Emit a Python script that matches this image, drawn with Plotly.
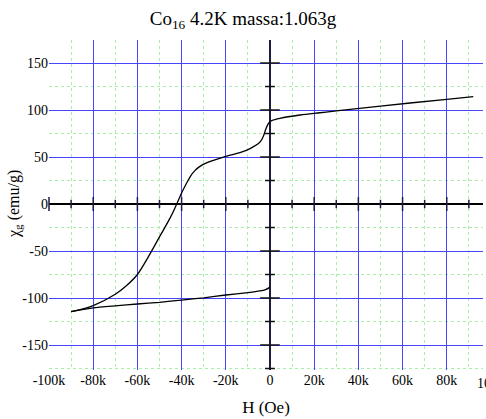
import plotly.graph_objects as go

# ---- data ----
H_down = [92000, 80000, 50000, 30000, 22600, 13600, 4500, 1000, 0, -1000, -2000, -3000,
          -4500, -9000, -13600, -19600, -25600, -29000, -32000, -34000, -36000, -38000,
          -40000, -42200, -45000, -50000, -55000, -60000, -65000, -70000,
          -80000, -90000]
M_down = [114.2, 111.4, 104.2, 99.0, 97.1, 94.7, 91.2, 89.0, 87.5, 84.5, 79.0, 72.0,
          66.0, 59.0, 54.6, 51.0, 46.5, 43.5, 39.5, 35.5, 29.5, 21.0,
          11.7, 0.0, -14.0, -35.0, -56.0, -75.0, -87.0, -96.0,
          -108.0, -114.5]
H_up = [-90000, -80000, -70000, -60000, -50000, -40000, -30000, -20000, -10000,
        -4500, -2000, -500, 0]
M_up = [-114.5, -110.5, -108.3, -106.4, -104.6, -102.2, -99.8, -96.8, -94.3,
        -92.5, -91.0, -89.2, -88.0]

x_tickvals = [-100000, -80000, -60000, -40000, -20000, 0, 20000, 40000, 60000, 80000]
x_ticktext = ["-100k", "-80k", "-60k", "-40k", "-20k", "0", "20k", "40k", "60k", "80k"]
y_tickvals = [-150, -100, -50, 0, 50, 100, 150]
y_ticktext = ["-150", "-100", "-50", "0", "50", "100", "150"]

# tick marks drawn on the axes that cross at the origin
x_major_marks = [-100000, -80000, -60000, -40000, -20000, 20000, 40000, 60000, 80000]
x_minor_marks = [-90000, -70000, -50000, -30000, -10000, 10000, 30000, 50000, 70000, 90000]
y_major_marks = [-150, -100, -50, 50, 100, 150]
y_minor_marks = [-175, -125, -75, -25, 25, 75, 125]

x_range = [-100000, 96400]
y_range = [-176.6, 174.5]

FONT = "Liberation Serif"
MAJOR = "#4646ff"
MINOR = "#a8f0a8"
AXC = "#1c1c40"
W, H = 486, 419
ML, MR, MT, MB = 49, 3, 40, 49

fig = go.Figure()
fig.add_trace(go.Scatter(x=H_down, y=M_down, mode="lines",
                         line=dict(color="black", width=1.3, shape="spline", smoothing=1.0),
                         showlegend=False, hoverinfo="skip"))
fig.add_trace(go.Scatter(x=H_up, y=M_up, mode="lines",
                         line=dict(color="black", width=1.3, shape="spline", smoothing=0.6),
                         showlegend=False, hoverinfo="skip"))

def marks(xs, ys, symbol, size, color):
    fig.add_trace(go.Scatter(x=xs, y=ys, mode="markers", showlegend=False,
                             hoverinfo="skip", cliponaxis=False,
                             marker=dict(symbol=symbol, size=size,
                                         line=dict(color=color, width=1.5))))

marks(x_major_marks, [0] * len(x_major_marks), "line-ns", 10, AXC)
marks(x_minor_marks, [0] * len(x_minor_marks), "line-ns", 6, AXC)
marks([0] * len(y_major_marks), y_major_marks, "line-ew", 14, "#111111")
marks([0] * len(y_minor_marks), y_minor_marks, "line-ew", 7, "#111111")

axfont = dict(family=FONT, size=14, color="black")

fig.update_layout(
    width=W, height=H,
    margin=dict(l=ML, r=MR, t=MT, b=MB, autoexpand=False),
    paper_bgcolor="white", plot_bgcolor="white",
    font=dict(family=FONT, color="black", size=14),
    title=dict(text="Co<sub>16</sub> 4.2K massa:1.063g", x=0.5, xanchor="center",
               xref="container", y=1 - 18 / H, yref="container", yanchor="middle",
               font=dict(family=FONT, size=19, color="black")),
    xaxis=dict(range=x_range, tickvals=x_tickvals, ticktext=x_ticktext,
               showgrid=True, gridcolor=MAJOR, gridwidth=1,
               zeroline=True, zerolinecolor=AXC, zerolinewidth=2,
               showline=False, ticks="", automargin=False,
               minor=dict(tickmode="linear", tick0=0, dtick=10000, showgrid=True,
                          gridcolor=MINOR, griddash="dot", gridwidth=1),
               title=dict(text="H (Oe)", font=dict(family=FONT, size=17), standoff=14),
               tickfont=axfont),
    yaxis=dict(range=y_range, tickvals=y_tickvals, ticktext=y_ticktext,
               showgrid=True, gridcolor=MAJOR, gridwidth=1,
               zeroline=True, zerolinecolor="black", zerolinewidth=2,
               showline=False, ticks="", automargin=False,
               minor=dict(tickmode="linear", tick0=0, dtick=25, showgrid=True,
                          gridcolor=MINOR, griddash="dot", gridwidth=1),
               tickfont=axfont),
)

# y-axis title as rotated text
pw = W - ML - MR
fig.add_annotation(text="χ<sub>g</sub> (emu/g)", xref="paper", yref="paper",
                   x=-(ML - 14) / pw, y=(0 - y_range[0]) / (y_range[1] - y_range[0]),
                   xanchor="center", yanchor="middle", textangle=-90, showarrow=False,
                   font=dict(family=FONT, size=16, color="black"))

# the cut-off "100k" label at the right edge
fig.add_annotation(text="100k", xref="paper", yref="paper",
                   x=(100000 - x_range[0]) / (x_range[1] - x_range[0]), y=0,
                   yshift=-4, xanchor="center", yanchor="top", showarrow=False,
                   font=axfont)

fig.write_html("out.html", config={"displayModeBar": False},
               post_script="document.body.style.margin='0';document.body.style.overflow='hidden';")
